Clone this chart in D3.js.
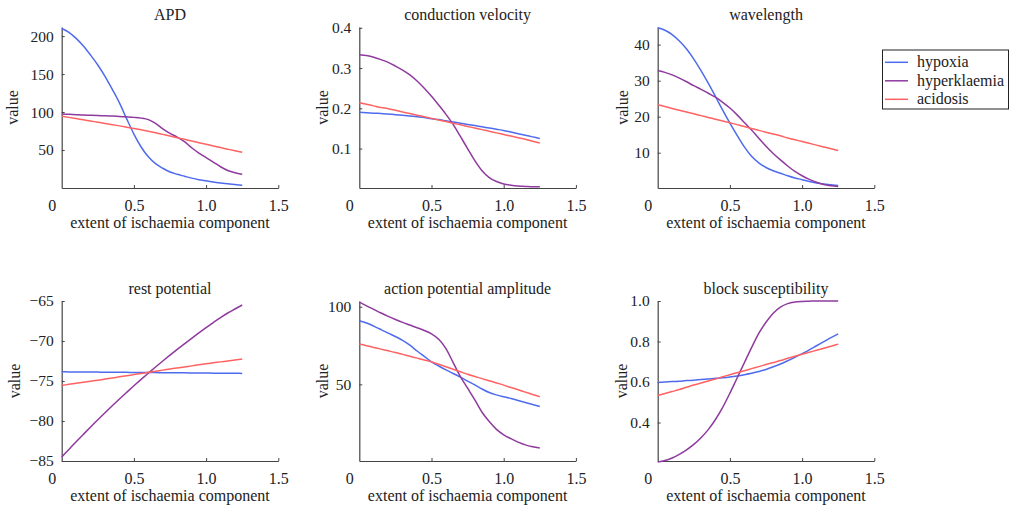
<!DOCTYPE html>
<html><head><meta charset="utf-8">
<script src="https://cdn.jsdelivr.net/npm/d3@7"></script>
<style>
html,body{margin:0;padding:0;background:#fff;}
svg text{font-family:'Liberation Serif','Times New Roman','DejaVu Serif',serif !important;fill:#222;}
</style></head>
<body><svg id="c" width="1013" height="506"></svg>
<script>
// ---------- data ----------
const xs = [0,0.05,0.1,0.15,0.2,0.25,0.3,0.35,0.4,0.45,0.5,0.55,0.6,0.65,0.7,0.75,0.8,0.85,0.9,0.95,1.0,1.05,1.1,1.15,1.2,1.25];
const seriesNames = ["hypoxia","hyperklaemia","acidosis"];
const panelTitles = ["APD","conduction velocity","wavelength","rest potential","action potential amplitude","block susceptibility"];
const xTicks = [0,0.5,1.0,1.5];
const xTickLabels = ["0","0.5","1.0","1.5"];
const xLabel = "extent of ischaemia component";
const yLabel = "value";

const apdHypoxia = [210,205,197,187,175,162,147,130,112,91,71,54,41,32,26,21,18,15.5,13,11,9.5,8,6.7,5.5,4.5,3.5];
const apdHyperk  = [97.5,97,96.5,96,95.8,95.5,95,94.7,94.3,93.7,93,92,90,85,78,72,67,61,53,46,40,34,28,23,20,18];
const apdAcid    = [94.5,93,91.4,89.8,88.2,86.6,85,83.4,81.8,80.1,78.4,76.6,74.7,72.7,70.6,68.5,66.3,64.1,61.9,59.7,57.5,55.3,53.2,51.1,49,47];
const apdTicks = [50,100,150,200];

const cvHypoxia = [0.190,0.189,0.188,0.187,0.186,0.184,0.183,0.181,0.179,0.177,0.174,0.172,0.169,0.166,0.163,0.160,0.157,0.154,0.151,0.148,0.145,0.141,0.137,0.133,0.129,0.125];
const cvHyperk  = [0.333,0.331,0.327,0.321,0.314,0.305,0.295,0.283,0.268,0.25,0.23,0.208,0.185,0.16,0.13,0.1,0.07,0.045,0.028,0.018,0.012,0.009,0.007,0.006,0.005,0.005];
const cvAcid    = [0.214,0.210,0.206,0.202,0.199,0.195,0.191,0.187,0.183,0.179,0.175,0.171,0.167,0.163,0.159,0.155,0.151,0.147,0.143,0.139,0.135,0.131,0.127,0.123,0.118,0.114];
const cvTicks = [0.1,0.2,0.3,0.4];

const wlHypoxia = [44.7,44,42.8,41,38.8,36,32.8,29.3,25.6,21.8,18.2,14.8,11.6,9,7.2,5.9,5,4.3,3.6,3,2.5,2,1.6,1.3,1.1,0.9];
const wlHyperk  = [32.8,32.3,31.6,30.7,29.7,28.6,27.6,26.5,25.4,24,22.4,20.5,18.4,16.3,14,11.8,9.8,8,6.3,4.8,3.6,2.6,1.8,1.2,0.8,0.6];
const wlAcid    = [23.3,22.8,22.3,21.8,21.3,20.8,20.3,19.8,19.3,18.8,18.3,17.8,17.3,16.7,16.2,15.7,15.2,14.7,14.1,13.6,13.1,12.6,12.1,11.6,11.1,10.6];
const wlTicks = [10,20,30,40];

const rpHypoxia = [-73.85,-73.86,-73.87,-73.87,-73.88,-73.89,-73.9,-73.9,-73.91,-73.92,-73.93,-73.94,-73.94,-73.95,-73.96,-73.97,-73.98,-73.98,-73.99,-74.0,-74.01,-74.02,-74.03,-74.03,-74.04,-74.05];
const rpHyperk  = [-84.5,-83.55,-82.6,-81.67,-80.75,-79.85,-78.97,-78.1,-77.25,-76.42,-75.6,-74.8,-74.02,-73.25,-72.5,-71.77,-71.05,-70.35,-69.66,-68.99,-68.33,-67.69,-67.07,-66.5,-66.0,-65.5];
const rpAcid    = [-75.55,-75.42,-75.29,-75.16,-75.03,-74.9,-74.76,-74.62,-74.48,-74.34,-74.2,-74.06,-73.92,-73.78,-73.64,-73.5,-73.37,-73.24,-73.11,-72.98,-72.85,-72.73,-72.61,-72.49,-72.37,-72.25];
const rpTicks = [-85,-80,-75,-70,-65];

const apaHypoxia = [91,89.5,87.5,85.3,83,80.8,78.3,75.2,71.5,68,64.5,61.8,59.3,57,54.6,52.1,49.6,47,44.7,43.2,42,40.9,39.6,38.3,37,35.7];
const apaHyperk  = [103,100.6,98.3,96,93.8,91.8,89.9,88.2,86.5,84.7,82.5,79,73,64,55,47.5,40,32,26,21,17.5,15,12.8,11,9.8,9];
const apaAcid    = [76,74.9,73.8,72.7,71.6,70.5,69.3,68.1,66.9,65.7,64.5,62.9,61.3,59.7,58.1,56.5,55.1,53.7,52.3,50.9,49.5,48,46.5,45,43.5,42];
const apaTicks = [50,100];

const bsHypoxia = [0.598,0.6,0.602,0.604,0.607,0.609,0.612,0.615,0.618,0.621,0.625,0.63,0.636,0.643,0.652,0.662,0.675,0.689,0.705,0.722,0.74,0.759,0.779,0.799,0.819,0.838];
const bsHyperk  = [0.205,0.212,0.225,0.243,0.265,0.292,0.325,0.365,0.415,0.475,0.545,0.62,0.695,0.77,0.84,0.895,0.94,0.97,0.987,0.995,0.998,0.999,1,1,1,1];
const bsAcid    = [0.533,0.543,0.553,0.563,0.574,0.585,0.595,0.605,0.615,0.626,0.636,0.646,0.656,0.666,0.676,0.686,0.696,0.706,0.717,0.727,0.737,0.747,0.757,0.767,0.777,0.787];
const bsTicks = [0.4,0.6,0.8,1.0];

// ---------- styling / layout ----------
const FONT = "'Liberation Serif','Times New Roman','DejaVu Serif',serif";
const colors = ["#4f6bed","#8f3a9e","#ff6262"];
const colX = [61.7, 359.3, 657.7];
const plotW = 216.6;
const rowY = [[27,188],[301,461]];
const yLabelOff = [49, 36, 35, 47, 36, 36];
const yFmt = [d=>d, d3.format(".1f"), d=>d, d=>(d<0?"\u2212"+Math.abs(d):d), d=>d, d3.format(".1f")];

const panels = [
  {series:[apdHypoxia,apdHyperk,apdAcid], ticks:apdTicks, domain:[0,212]},
  {series:[cvHypoxia,cvHyperk,cvAcid], ticks:cvTicks, domain:[0.002,0.402]},
  {series:[wlHypoxia,wlHyperk,wlAcid], ticks:wlTicks, domain:[0.2,44.9]},
  {series:[rpHypoxia,rpHyperk,rpAcid], ticks:rpTicks, domain:[-85,-65]},
  {series:[apaHypoxia,apaHyperk,apaAcid], ticks:apaTicks, domain:[0.6,103.7]},
  {series:[bsHypoxia,bsHyperk,bsAcid], ticks:bsTicks, domain:[0.21,1.0]}
];

const svg = d3.select("#c");
const axisCol = "#444";

panels.forEach((p,i)=>{
  const col = i%3, row = Math.floor(i/3);
  const x0 = colX[col], yb = rowY[row][1], yt = rowY[row][0];
  const x = d3.scaleLinear().domain([0,1.5]).range([x0, x0+plotW]);
  const y = d3.scaleLinear().domain(p.domain).range([yb, yt]);
  const g = svg.append("g");

  // x axis
  const xa = g.append("g").attr("transform",`translate(0,${yb})`)
    .call(d3.axisBottom(x).tickValues(xTicks).tickSizeInner(-3).tickSizeOuter(0).tickPadding(12)
      .tickFormat((d,k)=>xTickLabels[k]));
  xa.attr("font-family",FONT);
  xa.select(".domain").attr("stroke",axisCol).attr("stroke-width",1.2);
  xa.selectAll(".tick line").attr("stroke",axisCol);
  xa.selectAll(".tick text").attr("font-size",16).style("font-family",FONT).attr("fill","#222")
    .attr("dx",(d,k)=>k===0?-10:0);
  xa.selectAll(".tick").filter((d,k)=>k===0).select("line").remove();

  // y axis
  const ya = g.append("g").attr("transform",`translate(${x0},0)`)
    .call(d3.axisLeft(y).tickValues(p.ticks).tickSizeInner(-3).tickSizeOuter(0).tickPadding(8).tickFormat(yFmt[i]));
  ya.attr("font-family",FONT);
  ya.select(".domain").attr("stroke",axisCol).attr("stroke-width",1.2);
  ya.selectAll(".tick line").attr("stroke",axisCol);
  ya.selectAll(".tick text").attr("font-size",15.5).style("font-family",FONT).attr("fill","#222");

  // lines
  const line = d3.line().x((d,k)=>x(xs[k])).y(d=>y(d)).curve(d3.curveMonotoneX);
  p.series.forEach((s,k)=>{
    g.append("path").datum(s).attr("d",line).attr("fill","none")
      .attr("stroke",colors[k]).attr("stroke-width",1.5);
  });

  // titles
  g.append("text").attr("x",x0+plotW/2).attr("y",yt-7).attr("text-anchor","middle")
    .attr("font-size",16).style("font-family",FONT).text(panelTitles[i]);
  g.append("text").attr("x",x0+plotW/2).attr("y",yb+40).attr("text-anchor","middle")
    .attr("font-size",16).style("font-family",FONT).text(xLabel);
  const ly = (yt+yb)/2;
  g.append("text").attr("transform",`translate(${x0-yLabelOff[i]+5},${ly}) rotate(-90)`)
    .attr("text-anchor","middle").attr("font-size",16).style("font-family",FONT).text(yLabel);
});

// legend
const lg = svg.append("g");
lg.append("rect").attr("x",882.5).attr("y",50).attr("width",126).attr("height",59)
  .attr("fill","#fff").attr("stroke","#222").attr("stroke-width",1);
seriesNames.forEach((n,k)=>{
  const yy = 62.3 + k*18.5;
  lg.append("line").attr("x1",885).attr("x2",908).attr("y1",yy).attr("y2",yy)
    .attr("stroke",colors[k]).attr("stroke-width",1.5);
  lg.append("text").attr("x",917).attr("y",yy+5).attr("font-size",16).style("font-family",FONT).text(n);
});
</script></body></html>
